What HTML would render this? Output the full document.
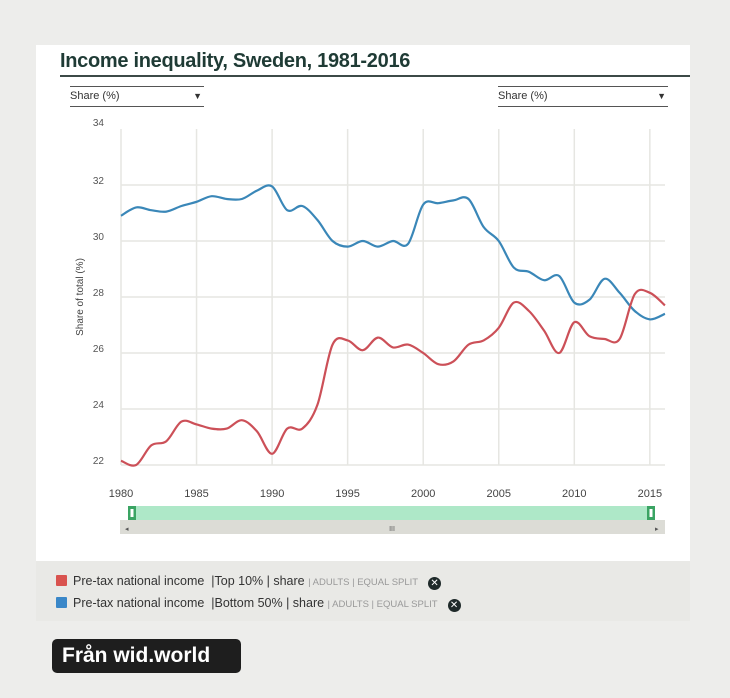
<!DOCTYPE html>
<html><head><meta charset="utf-8"><style>
body{margin:0;width:730px;height:698px;background:#ededeb;font-family:"Liberation Sans",sans-serif;overflow:hidden;position:relative}
.card{position:absolute;left:36px;top:45px;width:654px;height:516px;background:#fff}
.legend{position:absolute;left:36px;top:561px;width:654px;height:60px;background:#e9e9e6}
.title{position:absolute;left:60px;top:50px;font-size:20px;font-weight:bold;color:#1f3b35;letter-spacing:-0.3px}
.rule{position:absolute;left:60px;top:75px;width:630px;height:2px;background:#3c4a47}
.dd{position:absolute;top:86px;width:134px;height:19px;border-top:1px solid #555;border-bottom:1px solid #555;font-size:11px;color:#333;line-height:19px}
.dd span{position:absolute;right:2px;font-size:9px}
.li{position:absolute;left:56px;font-size:12.5px;color:#333;white-space:nowrap}
.sw{display:inline-block;width:11px;height:11px;vertical-align:-1px;margin-right:6px;border-radius:1px}
.sm{font-size:9.5px;color:#999}
.x{display:inline-block;width:13px;height:13px;border-radius:50%;background:#1f2a2a;color:#fff;font-size:10px;text-align:center;line-height:13px;margin-left:10px;vertical-align:-1px}
.badge{position:absolute;left:52px;top:639px;width:189px;height:34px;background:#1e1e1e;border-radius:5px;color:#fff;font-weight:bold;font-size:21px;line-height:34px;padding-left:10px;box-sizing:border-box}
</style></head><body>
<div class="card"></div>
<div class="title">Income inequality, Sweden, 1981-2016</div>
<div class="rule"></div>
<div class="dd" style="left:70px">Share (%)<span>▼</span></div>
<div class="dd" style="left:498px;width:170px">Share (%)<span>▼</span></div>
<svg id="chart" width="730" height="698" style="position:absolute;left:0;top:0"></svg>
<div class="legend"></div>
<div class="li" style="top:574px"><span class="sw" style="background:#d9534f"></span>Pre-tax national income &nbsp;|Top 10% | share <span class="sm">| ADULTS | EQUAL SPLIT</span><span class="x">✕</span></div>
<div class="li" style="top:596px"><span class="sw" style="background:#3a87c8"></span>Pre-tax national income &nbsp;|Bottom 50% | share <span class="sm">| ADULTS | EQUAL SPLIT</span><span class="x">✕</span></div>
<div class="badge">Från wid.world</div>
<script>
const years=[1980,1981,1982,1983,1984,1985,1986,1987,1988,1989,1990,1991,1992,1993,1994,1995,1996,1997,1998,1999,2000,2001,2002,2003,2004,2005,2006,2007,2008,2009,2010,2011,2012,2013,2014,2015,2016];
const top10=[22.15,22.0,22.7,22.85,23.55,23.45,23.3,23.3,23.6,23.2,22.4,23.3,23.3,24.15,26.3,26.45,26.1,26.55,26.2,26.3,26.0,25.6,25.7,26.3,26.45,26.9,27.8,27.5,26.8,26.0,27.1,26.6,26.5,26.5,28.1,28.15,27.7];
const bottom50=[30.9,31.2,31.1,31.05,31.25,31.4,31.6,31.5,31.5,31.8,31.95,31.1,31.25,30.75,30.0,29.8,30.0,29.8,30.0,29.9,31.3,31.35,31.45,31.5,30.5,30.0,29.05,28.9,28.6,28.75,27.8,27.9,28.65,28.15,27.5,27.2,27.4];
const yTicks=[22,24,26,28,30,32,34];
const xTicks=[1980,1985,1990,1995,2000,2005,2010,2015];
const X=y=>121+(y-1980)*15.11, Y=v=>465-(v-22)*28;
const svg=document.getElementById('chart');const NS='http://www.w3.org/2000/svg';
function mk(t,a,txt){const e=document.createElementNS(NS,t);for(const k in a)e.setAttribute(k,a[k]);if(txt!=null)e.textContent=txt;svg.appendChild(e);return e;}
yTicks.forEach(v=>{if(v<34){const g=mk('line',{x1:121,x2:665,y1:Y(v),y2:Y(v),stroke:'#e6e6e2','stroke-width':1.5});

}
const t=mk('text',{x:104,y:Y(v)+(v==34?-3:-1),'text-anchor':'end','font-size':10,fill:'#555'},v);

});
xTicks.forEach(v=>{const g=mk('line',{x1:X(v),x2:X(v),y1:Y(34),y2:Y(22),stroke:'#e6e6e2','stroke-width':1.5});


const t=mk('text',{x:X(v),y:497,'text-anchor':'middle','font-size':11,fill:'#444'},v);

});
const at=mk('text',{x:0,y:0,transform:'translate(83,297) rotate(-90)','text-anchor':'middle','font-size':10,fill:'#444'},'Share of total (%)');


function path(vals){const p=years.map((y,i)=>[X(y),Y(vals[i])]);let d='M'+p[0];for(let i=0;i<p.length-1;i++){const a=p[i-1]||p[i],b=p[i],c=p[i+1],e=p[i+2]||c;d+=' C'+(b[0]+(c[0]-a[0])/6)+','+(b[1]+(c[1]-a[1])/6)+' '+(c[0]-(e[0]-b[0])/6)+','+(c[1]-(e[1]-b[1])/6)+' '+c[0]+','+c[1];}return d;}
const l1=mk('path',{d:path(bottom50),fill:'none',stroke:'#3a87b8','stroke-width':2.2});


const l2=mk('path',{d:path(top10),fill:'none',stroke:'#cc5058','stroke-width':2.2});


const sb=mk('rect',{x:120,y:520,width:545,height:14,fill:'#dcdcd6'});


mk('text',{x:392,y:531,'text-anchor':'middle','font-size':7,fill:'#555'},'III');
mk('text',{x:125,y:531,'font-size':7,fill:'#555'},'◂');
mk('text',{x:655,y:531,'font-size':7,fill:'#555'},'▸');
const nav=mk('rect',{x:131,y:506,width:522,height:14,fill:'#aee8c8'});


[128,647].forEach(x=>{const h=mk('rect',{x:x,y:506,width:8,height:14,fill:'#3aa463'});


mk('rect',{x:x+2.5,y:509,width:3,height:8,fill:'#fff'});});
</script>
</body></html>
